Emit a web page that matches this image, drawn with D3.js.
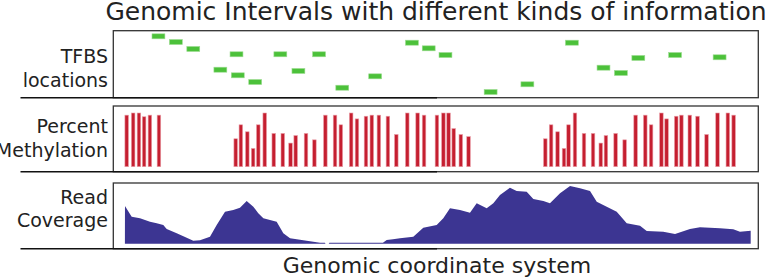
<!DOCTYPE html>
<html>
<head>
<meta charset="utf-8">
<script src="https://cdn.jsdelivr.net/npm/d3@7"></script>
<style>
  html, body { margin: 0; padding: 0; background: #fff; }
  text { font-family: "DejaVu Sans", sans-serif; fill: #222; }
</style>
</head>
<body>
<div id="chart"></div>
<script>
// genomic coordinates (0..1000) of each TFBS start, and its vertical placement score
const tfbsStart = [60, 87, 114, 181, 156, 183, 210, 249, 277, 309, 345, 396,
  453, 479, 505, 575, 632, 701, 750, 777, 804, 861, 930];
const tfbsScore = [91.6, 83.1, 72.7, 64.8, 41.8, 33.4, 23.4, 64.8, 39.9, 64.8, 14.9, 31.9,
  82.1, 73.7, 63.7, 8.5, 20, 82.1, 44.8, 36.9, 59.3, 63.7, 60.3];
const tfbsLength = 20;

// CpG positions and percent methylation
const cpgPos = [18, 28, 37, 45, 54, 68,
  187, 195, 205, 214, 222, 232, 246, 260, 272, 280, 296, 309, 326,
  341, 350, 366, 375, 389, 398, 409, 423, 436, 453, 469, 479,
  499, 509, 517, 525, 536, 548,
  667, 676, 686, 696, 703, 713, 727, 741, 753, 761, 776, 790, 807,
  822, 831, 847, 855, 870, 878, 891, 903, 917, 934, 950, 959];
const methylation = [96, 100, 100, 93, 96, 96,
  52, 78, 65, 34, 78, 100, 62, 62, 44, 58, 62, 50, 96,
  96, 78, 100, 89, 94, 96, 96, 94, 60, 100, 100, 96,
  96, 100, 100, 71, 60, 56,
  52, 78, 65, 34, 78, 100, 62, 62, 44, 58, 62, 50, 96,
  96, 78, 100, 89, 94, 96, 96, 94, 60, 100, 100, 96];
const cpgWidth = 6;

// read coverage along the region
const covPos = [18, 18.1, 28.5, 41.4, 56.9, 67.3, 77.5, 82.8, 98.3, 113.8, 124, 134.4, 149.9,
  160.3, 173.2, 186, 196.4, 206.8, 217.1, 224.8, 232.6, 253.3, 263.6, 274, 299.8, 320.5,
  328, 329, 334, 335, 418, 423.9, 433.6, 444.5, 465.1, 480.6, 501.4, 511.6, 522, 537.5,
  553, 563.4, 578.9, 589.2, 599.5, 615, 625.4, 640.9, 651.2, 666.7, 677, 692.6, 708.1,
  723.6, 739.1, 749.5, 765, 780.5, 796, 816.6, 827, 852.7, 870.9, 894.1, 909.6, 940.6,
  961.2, 971.6, 988.2];
const coverage = [0, 65.3, 46.8, 44, 38.1, 35.4, 32.4, 25.5, 18, 10.4, 5.2, 5.9, 12.1,
  32.4, 55.5, 58.4, 62.4, 74, 64.1, 52.7, 44, 38.1, 18, 9.4, 5.2, 1.7,
  1.7, 0, 0, 1.7, 1.7, 6.4, 7.6, 9.4, 12.1, 27.7, 32.4, 44, 61.4, 58.4,
  53.7, 70, 61.4, 70, 84.4, 97.1, 91.3, 90.1, 77.5, 74, 70, 87.3, 100,
  96, 91.3, 72.8, 64.1, 55.5, 35.4, 31.2, 22, 20.8, 16.8, 25.5, 28.4, 26.7,
  25, 20.8, 22.5];

const width = 766, height = 278;
const left = 113.3, right = 758.3;

const svg = d3.select("#chart").append("svg")
  .attr("width", width)
  .attr("height", height);

const x = d3.scaleLinear().domain([0, 1000]).range([left, right]);

// panel frames
const panels = [
  { top: 30.7, bottom: 97.7, label: ["TFBS", "locations"], base: [63, 87] },
  { top: 106, bottom: 171.7, label: ["Percent", "Methylation"], base: [133.3, 156.7] },
  { top: 183, bottom: 248.7, label: ["Read", "Coverage"], base: [204.3, 227.3] }
];

panels.forEach(p => {
  svg.append("rect")
    .attr("x", left).attr("y", p.top)
    .attr("width", right - left).attr("height", p.bottom - p.top)
    .attr("fill", "none").attr("stroke", "#333").attr("stroke-width", 1.3);
  svg.append("line")
    .attr("x1", 20.5).attr("x2", 437)
    .attr("y1", p.bottom).attr("y2", p.bottom)
    .attr("stroke", "#111").attr("stroke-width", 1.6);
  p.label.forEach((t, i) => {
    svg.append("text")
      .attr("x", 108).attr("y", p.base[i])
      .attr("text-anchor", "end")
      .attr("font-size", 19)
      .text(t);
  });
});

// TFBS
const yT = d3.scaleLinear().domain([0, 100]).range([97.7, 30.7]);
svg.append("g")
  .selectAll("rect")
  .data(tfbsStart)
  .join("rect")
  .attr("x", d => x(d))
  .attr("y", (d, i) => yT(tfbsScore[i]) - 2.5)
  .attr("width", x(tfbsLength) - x(0))
  .attr("height", 5)
  .attr("fill", "#4cc13a")
  .attr("stroke", "#9ddc92")
  .attr("stroke-width", 0.6);

// methylation
const yM = d3.scaleLinear().domain([0, 100]).range([166.7, 113]);
svg.append("g")
  .selectAll("rect")
  .data(cpgPos)
  .join("rect")
  .attr("x", d => x(d))
  .attr("y", (d, i) => yM(methylation[i]))
  .attr("width", x(cpgWidth) - x(0) - 0.3)
  .attr("height", (d, i) => yM(0) - yM(methylation[i]))
  .attr("fill", "#c51f30")
  .attr("stroke", "#eaa0aa")
  .attr("stroke-width", 0.6);

// coverage
const yC = d3.scaleLinear().domain([0, 100]).range([243.7, 186]);
const covData = covPos.map((p, i) => [p, coverage[i]]);
svg.append("path")
  .datum(covData)
  .attr("fill", "#3c3592")
  .attr("d", d3.area()
    .x(d => x(d[0]))
    .y0(yC(0))
    .y1(d => yC(d[1])));

// title and x label
svg.append("text")
  .attr("x", 436).attr("y", 20)
  .attr("text-anchor", "middle")
  .attr("font-size", 25)
  .text("Genomic Intervals with different kinds of information");

svg.append("text")
  .attr("x", 437).attr("y", 273)
  .attr("text-anchor", "middle")
  .attr("font-size", 22)
  .text("Genomic coordinate system");
</script>
</body>
</html>
